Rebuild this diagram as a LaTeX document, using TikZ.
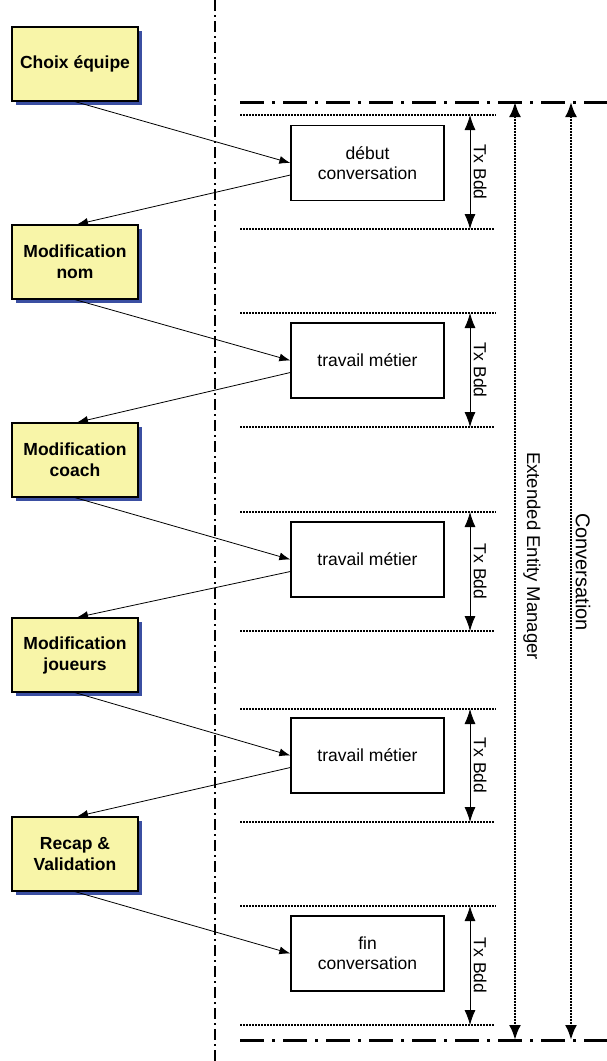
\documentclass[tikz,border=0pt]{standalone}
\usepackage{fontspec}
\setmainfont{Liberation Sans}
\usetikzlibrary{arrows.meta}
\usetikzlibrary{shadows}
\definecolor{jaune}{HTML}{F8F5A8}
\definecolor{ombre}{HTML}{3B4FA2}

\begin{document}
\begin{tikzpicture}[x=1pt,y=-1pt,
  etape/.style={draw, line width=1.2pt, fill=jaune, minimum width=126pt, minimum height=74pt,
    align=center, font=\fontsize{17.5}{21}\selectfont\bfseries,
    general shadow={fill=ombre, shadow xshift=4pt, shadow yshift=-4pt}},
  travail/.style={draw, line width=1.3pt, fill=white, minimum width=153pt, minimum height=75pt,
    align=center, font=\fontsize{17.5}{20}\selectfont},
  flux/.style={line width=0.8pt, -{Latex[length=11pt,width=8pt]}},
  tx/.style={line width=0.8pt, {Latex[length=15pt,width=11pt]}-{Latex[length=15pt,width=11pt]}},
  txlabel/.style={rotate=-90, anchor=south, font=\fontsize{17.5}{20}\selectfont},
  portee/.style={line width=2.6pt, dash pattern=on 2pt off 1pt, {Latex[length=15pt,width=12pt]}-{Latex[length=15pt,width=12pt]}},
  limite/.style={line width=2.6pt, dash pattern=on 2pt off 1pt},
  frontiere/.style={line width=2pt, dash pattern=on 11pt off 4pt on 2pt off 4pt},
  cadre/.style={line width=3pt, dash pattern=on 24pt off 8pt on 3pt off 8pt}]
\useasboundingbox (0,0) rectangle (607,1061);

% separation client / serveur
\draw [frontiere] (215,0) -- (215,1061);

% ecrans
\node [etape] (choix) at (75,64) {Choix équipe};
\node [etape] (nom) at (75,262) {Modification\\nom};
\node [etape] (coach) at (75,460) {Modification\\coach};
\node [etape] (joueurs) at (75,655) {Modification\\joueurs};
\node [etape] (recap) at (75,854) {Recap \&\\Validation};

% conversation
\draw [cadre] (240,102) -- (607,102);
\draw [cadre] (240,1040) -- (607,1040);
\coordinate (eemhaut) at (515,102);
\coordinate (eembas) at (515,1040);
\coordinate (convhaut) at (571,102);
\coordinate (convbas) at (571,1040);
\draw [portee] (eemhaut) -- (eembas);
\draw [portee] (convhaut) -- (convbas);
\node [rotate=-90, font=\fontsize{18.5}{20}\selectfont] (eem) at (532,556) {Extended Entity Manager};
\node [rotate=-90, font=\fontsize{20}{22}\selectfont] (conv) at (583,572) {Conversation};

% transactions
\draw [limite] (240,115) -- (496,115);
\draw [limite] (240,229) -- (494,229);
\draw [limite] (240,313) -- (496,313);
\draw [limite] (240,427) -- (494,427);
\draw [limite] (240,512) -- (496,512);
\draw [limite] (240,631) -- (494,631);
\draw [limite] (240,709) -- (496,709);
\draw [limite] (240,822) -- (494,822);
\draw [limite] (240,906) -- (496,906);
\draw [limite] (240,1025) -- (494,1025);

\coordinate (tx1h) at (470,115);
\coordinate (tx1b) at (470,229);
\coordinate (tx2h) at (470,313);
\coordinate (tx2b) at (470,427);
\coordinate (tx3h) at (470,512);
\coordinate (tx3b) at (470,631);
\coordinate (tx4h) at (470,709);
\coordinate (tx4b) at (470,822);
\coordinate (tx5h) at (470,906);
\coordinate (tx5b) at (470,1025);
\draw [tx] (tx1h) -- node [txlabel] {Tx Bdd} (tx1b);
\draw [tx] (tx2h) -- node [txlabel] {Tx Bdd} (tx2b);
\draw [tx] (tx3h) -- node [txlabel] {Tx Bdd} (tx3b);
\draw [tx] (tx4h) -- node [txlabel] {Tx Bdd} (tx4b);
\draw [tx] (tx5h) -- node [txlabel] {Tx Bdd} (tx5b);

\node [travail] (debut) at (367.5,163) {début\\conversation};
\node [travail] (metier1) at (367.5,360.5) {travail métier};
\node [travail] (metier2) at (367.5,559.5) {travail métier};
\node [travail] (metier3) at (367.5,755.5) {travail métier};
\node [travail] (fin) at (367.5,953.5) {fin\\conversation};

% enchainement
\draw [flux] (choix.south) -- (debut.west);
\draw [flux] ([yshift=-12pt]debut.west) -- ([xshift=2pt]nom.north);
\draw [flux] (nom.south) -- (metier1.west);
\draw [flux] ([yshift=-12pt]metier1.west) -- ([xshift=2pt]coach.north);
\draw [flux] (coach.south) -- (metier2.west);
\draw [flux] ([yshift=-12pt]metier2.west) -- ([xshift=2pt]joueurs.north);
\draw [flux] (joueurs.south) -- (metier3.west);
\draw [flux] ([yshift=-12pt]metier3.west) -- ([xshift=2pt]recap.north);
\draw [flux] (recap.south) -- (fin.west);
\end{tikzpicture}
\end{document}
